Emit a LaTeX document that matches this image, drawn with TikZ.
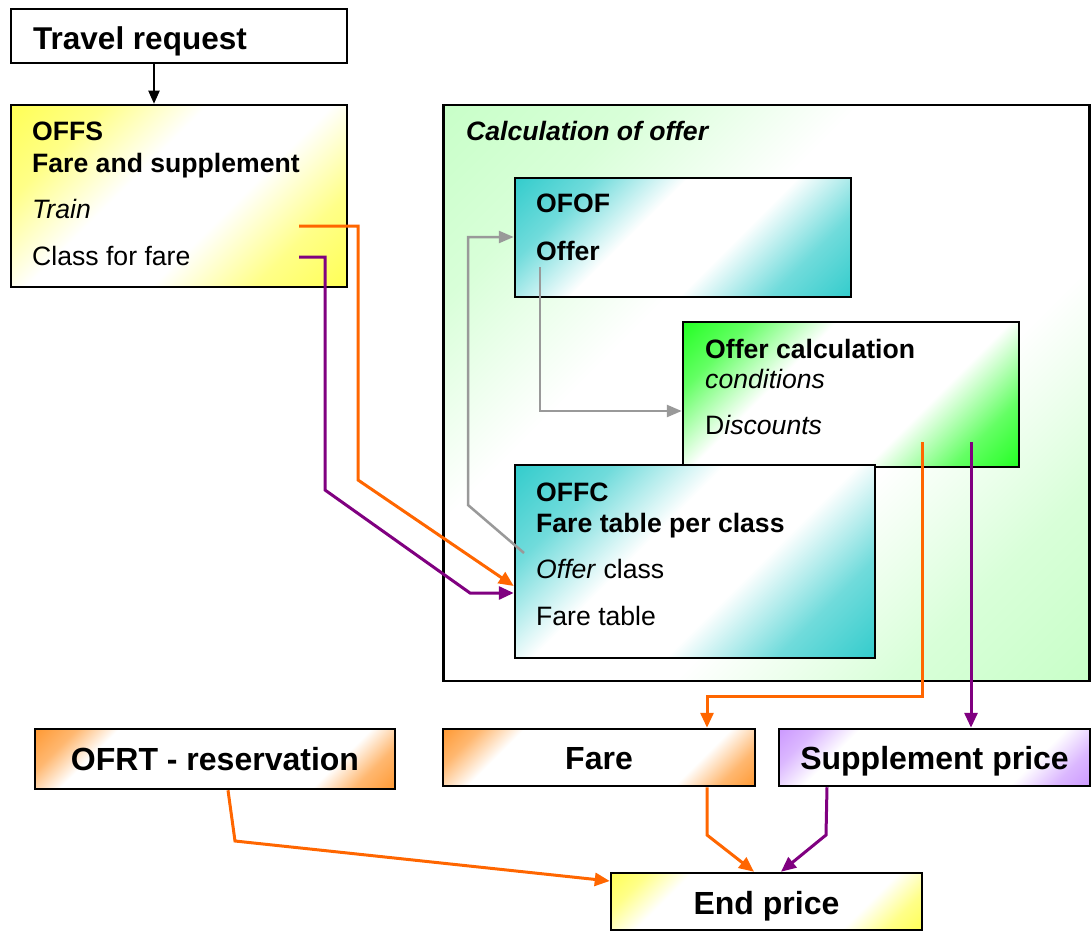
\documentclass[tikz,border=0pt]{standalone}
\usepackage{fontspec}
\setmainfont{Liberation Sans}
\usetikzlibrary{arrows.meta}
\definecolor{cyel}{HTML}{FFFF55}
\definecolor{cteal}{HTML}{33CCCC}
\definecolor{cgreen}{HTML}{22FF22}
\definecolor{clgreen}{HTML}{C8FFC8}
\definecolor{corange}{HTML}{FF9933}
\definecolor{cpurple}{HTML}{CC99FF}
\definecolor{lorange}{HTML}{FF6600}
\definecolor{lpurple}{HTML}{800080}
\definecolor{lgray}{HTML}{999999}
% #1 name, #2 colour, #3 white start (bp); box corners sit at 25bp / 75bp
\newcommand\mkdiag[3]{%
  \colorlet{tmpmid}{#2!70!white}%
  \pgfdeclareverticalshading{#1}{100bp}{color(0bp)=(#2); color(25bp)=(#2);
    color(\the\numexpr25+(#3-25)*45/100\relax bp)=(tmpmid);
    color(#3bp)=(white); color(\the\numexpr100-#3\relax bp)=(white);
    color(\the\numexpr75-(#3-25)*45/100\relax bp)=(tmpmid);
    color(75bp)=(#2); color(100bp)=(#2)}}
\mkdiag{shOffs}{cyel}{44}
\mkdiag{shEnd}{cyel}{36}
\mkdiag{shOfof}{cteal}{44}
\mkdiag{shOffc}{cteal}{44}
\mkdiag{shOcal}{cgreen}{41}
\mkdiag{shCalc}{clgreen}{42}
\mkdiag{shOfrt}{corange}{35}
\mkdiag{shFare}{corange}{36}
\mkdiag{shSupp}{cpurple}{36}
% diagonal gradient fill of a box: cx, cy, w, h, shading, corner colour
\newcommand\gfill[6]{%
  \begin{scope}
    \clip (#1-#3/2,#2-#4/2) rectangle (#1+#3/2,#2+#4/2);
    \fill[#6] (#1-#3/2,#2-#4/2) rectangle (#1+#3/2,#2+#4/2);
    \pgfmathsetmacro\gL{(#3+#4)/(2*sqrt(2))}
    \shade[shading=#5, transform canvas={shift={(#1,#2)}, rotate=45}] (-\gL,-\gL) rectangle (\gL,\gL);
  \end{scope}}
\tikzset{
  box/.style={draw=black, line width=2.5pt, inner sep=0pt},
  txt/.style={inner sep=0pt, anchor=base west, font=\fontsize{26.6}{31}\selectfont},
  btxt/.style={inner sep=0pt, anchor=base west, font=\fontsize{26.6}{31}\selectfont\bfseries},
  bigtxt/.style={inner sep=0pt, anchor=base, font=\fontsize{32}{37}\selectfont\bfseries},
  oline/.style={draw=lorange, line width=3pt, -{Triangle[length=15pt,width=13pt]}},
  pline/.style={draw=lpurple, line width=3pt, -{Triangle[length=15pt,width=13pt]}},
  gline/.style={draw=lgray, line width=2.5pt, -{Triangle[length=15pt,width=12pt]}},
  kline/.style={draw=black, line width=2pt, -{Triangle[length=13pt,width=11pt]}}
}
\begin{document}
\begin{tikzpicture}[x=1pt,y=-1pt]
\useasboundingbox (0,0) rectangle (1092,931);
% boxes
\node[box, fill=white, minimum width=336pt, minimum height=54pt] (tr) at (179,36) {};
\gfill{179}{196}{336}{182}{shOffs}{cyel}
\node[box, minimum width=336pt, minimum height=182pt] (offs) at (179,196) {};
\gfill{766.5}{393}{646}{576}{shCalc}{clgreen}
\node[box, minimum width=646pt, minimum height=576pt] (calc) at (766.5,393) {};
\gfill{683}{237.5}{336}{119}{shOfof}{cteal}
\node[box, minimum width=336pt, minimum height=119pt] (ofof) at (683,237.5) {};
\gfill{851}{394.5}{336}{145}{shOcal}{cgreen}
\node[box, minimum width=336pt, minimum height=145pt] (ocal) at (851,394.5) {};
\gfill{695}{561.5}{360}{193}{shOffc}{cteal}
\node[box, minimum width=360pt, minimum height=193pt] (offc) at (695,561.5) {};
\gfill{215}{759}{360}{60}{shOfrt}{corange}
\node[box, minimum width=360pt, minimum height=60pt] (ofrt) at (215,759) {};
\gfill{599}{757.5}{312}{57}{shFare}{corange}
\node[box, minimum width=312pt, minimum height=57pt] (fare) at (599,757.5) {};
\gfill{934.5}{757.5}{311}{57}{shSupp}{cpurple}
\node[box, minimum width=311pt, minimum height=57pt] (supp) at (934.5,757.5) {};
\gfill{766.5}{901.5}{311}{57}{shEnd}{cyel}
\node[box, minimum width=311pt, minimum height=57pt] (endp) at (766.5,901.5) {};
% texts
\node[txt, font=\fontsize{31.5}{37}\selectfont\bfseries] (trt) at (33,50) {Travel request};
\node[btxt] (offs1) at (32,140) {OFFS};
\node[btxt] (offs2) at (32,172) {Fare and supplement};
\node[txt] (offs3) at (32,218) {\itshape Train};
\node[txt] (offs4) at (32,265) {Class for fare};
\node[btxt, font=\fontsize{26.6}{31}\selectfont\bfseries\itshape] (calct) at (466,141) {Calculation of offer};
\node[btxt] (ofof1) at (536,212) {OFOF};
\node[btxt] (ofof2) at (536,260) {Offer};
\node[btxt] (ocal1) at (705,358) {Offer calculation};
\node[txt] (ocal2) at (705,388) {\itshape conditions};
\node[txt] (ocal3) at (705,434) {D\textit{iscounts}};
\node[btxt] (offc1) at (536,501) {OFFC};
\node[btxt] (offc2) at (536,532) {Fare table per class};
\node[txt] (offc3) at (536,578) {\textit{Offer} class};
\node[txt] (offc4) at (536,625) {Fare table};
\node[bigtxt] (ofrtt) at (215,770) {OFRT - reservation};
\node[bigtxt] (faret) at (599,769) {Fare};
\node[bigtxt] (suppt) at (934.5,769) {Supplement price};
\node[bigtxt] (endpt) at (766.5,914) {End price};
% connector start points
\coordinate (sA) at (299,226);
\coordinate (sB) at (299,257);
\coordinate (g1) at (524,553);
\coordinate (g2) at (540,267);
\coordinate (c1) at (922,442);
\coordinate (c2) at (971,442);
% connectors
\draw[kline] (tr.south -| 154,0) -- (offs.north -| 154,0);
\draw[gline] (g1) -- (468,505) -- (468,237) -- (ofof.west |- 0,237);
\draw[gline] (g2) -- (540,411) -- (ocal.west |- 0,411);
\draw[oline] (sA) -- (358,226) -- (358,480) -- (offc.west |- 0,586);
\draw[pline] (sB) -- (325,257) -- (325,490) -- (470,593) -- (offc.west |- 0,593);
\draw[oline] (c1) -- (922,696) -- (707,696) -- (fare.north -| 707,0);
\draw[pline] (c2) -- (supp.north -| 971,0);
\draw[oline] (ofrt.south -| 228,0) -- (235,841) -- (endp.west |- 0,881);
\draw[oline] (fare.south -| 707,0) -- (707,835) -- (endp.north -| 754,0);
\draw[pline] (supp.south -| 827,0) -- (826,835) -- (endp.north -| 781,0);
\end{tikzpicture}
\end{document}
